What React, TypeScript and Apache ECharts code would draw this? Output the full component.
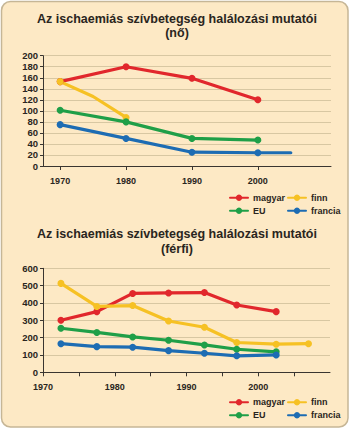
import React, { useEffect, useRef } from "react";
import * as echarts from "echarts";

// ---- data: women (nő) ----
const femaleMagyarYears = [1970, 1980, 1990, 2000];
const femaleMagyar = [153, 180, 159, 120];
const femaleFinnYears = [1970, 1975, 1980];
const femaleFinn = [153, 126, 88];
const femaleEUYears = [1970, 1980, 1990, 2000];
const femaleEU = [101, 80, 50, 47];
const femaleFranciaYears = [1970, 1980, 1990, 2000, 2005];
const femaleFrancia = [75, 50, 25, 24, 24];

// ---- data: men (férfi) ----
const maleYears = [1972.5, 1977.5, 1982.5, 1987.5, 1992.5, 1997, 2002.5];
const maleFinnYears = [1972.5, 1977.5, 1982.5, 1987.5, 1992.5, 1997, 2002.5, 2007];
const maleMagyar = [300, 350, 455, 458, 460, 388, 350];
const maleFinn = [513, 380, 385, 296, 260, 172, 162, 165];
const maleEU = [254, 230, 204, 185, 158, 133, 118];
const maleFrancia = [165, 148, 145, 125, 110, 95, 100];

const decadeTicks = [1970, 1980, 1990, 2000];
const femaleYTicks = { min: 0, max: 200, interval: 20 };
const maleYTicks = { min: 0, max: 600, interval: 100 };

const titleText = "Az ischaemiás szívbetegség halálozási mutatói";
const titleFemale = "(nő)";
const titleMale = "(férfi)";
const legendCol1 = ["magyar", "EU"];
const legendCol2 = ["finn", "francia"];

// points drawn without a marker (line bends / ends)
const noMarker: Record<string, number[]> = { "0-finn": [1975], "0-francia": [2005] };

const COLORS: Record<string, string> = {
  magyar: "#e1272c",
  finn: "#f6c124",
  EU: "#1f9f48",
  francia: "#1d6cb3",
};

const FONT = "'Liberation Sans', Arial, sans-serif";
const DARK = "#2a2520";

function mkSeries(name: string, years: number[], vals: number[], gi: number) {
  const hidden = noMarker[`${gi}-${name}`] || [];
  return {
    type: "line",
    name,
    xAxisIndex: gi,
    yAxisIndex: gi,
    symbol: "circle",
    symbolSize: 7,
    color: COLORS[name],
    lineStyle: { width: 3.2, color: COLORS[name], cap: "round", join: "round" },
    itemStyle: { color: COLORS[name] },
    data: years.map((y, i) =>
      hidden.includes(y) ? { value: [y, vals[i]], symbol: "none" } : { value: [y, vals[i]] }
    ),
    z: 3,
  };
}

function yAxisCfg(gi: number, t: { min: number; max: number; interval: number }) {
  return {
    type: "value",
    gridIndex: gi,
    min: t.min,
    max: t.max,
    interval: t.interval,
    axisLine: { show: true, lineStyle: { color: "#3a3530", width: 1 } },
    axisTick: { show: true, length: 3, lineStyle: { color: "#3a3530" } },
    axisLabel: {
      margin: 5,
      fontSize: 9.5,
      fontWeight: "bold",
      fontFamily: FONT,
      color: DARK,
    },
    splitLine: { show: true, lineStyle: { color: "#d8c7a2", width: 1 } },
  };
}

function legendCfg(data: string[], left: number, top: number) {
  return {
    data,
    orient: "vertical",
    left,
    top,
    padding: 0,
    itemGap: 4,
    itemWidth: 18,
    itemHeight: 8,
    selectedMode: false,
    textStyle: { fontSize: 9, fontWeight: "bold", fontFamily: FONT, color: DARK },
  };
}

export default function App() {
  const ref = useRef<HTMLDivElement>(null);
  useEffect(() => {
    if (!ref.current) return;
    const chart = echarts.init(ref.current, null, { renderer: "svg" });
    const titleStyle = {
      fontSize: 12.5,
      fontWeight: "bold",
      fontFamily: FONT,
      fill: DARK,
      textAlign: "center",
      textVerticalAlign: "middle",
    };
    const xLabel = {
      margin: 10,
      fontSize: 9,
      fontWeight: "bold",
      fontFamily: FONT,
      color: DARK,
    };
    chart.setOption({
      animation: false,
      graphic: [
        {
          type: "rect",
          z: -10,
          shape: { x: 1.5, y: 1.5, width: 346.5, height: 425.5, r: 9 },
          style: { fill: "#fde9c5", stroke: "#c6b696", lineWidth: 1.5 },
        },
        { type: "text", x: 177, y: 19, style: { ...titleStyle, text: titleText } },
        { type: "text", x: 177, y: 33, style: { ...titleStyle, text: titleFemale } },
        { type: "text", x: 177, y: 234, style: { ...titleStyle, text: titleText } },
        { type: "text", x: 177, y: 249, style: { ...titleStyle, text: titleMale } },
      ],
      grid: [
        { left: 43, right: 19, top: 55.7, height: 110.3 },
        { left: 43, right: 20, top: 268.3, height: 104 },
      ],
      xAxis: [
        {
          type: "value",
          gridIndex: 0,
          min: 1967.4,
          max: 2011.1,
          axisLine: { show: true, onZero: false, lineStyle: { color: "#3a3530", width: 1 } },
          axisTick: { show: true, length: 4, customValues: decadeTicks, lineStyle: { color: "#3a3530" } },
          axisLabel: {
            ...xLabel,
            customValues: decadeTicks,
            formatter: (v: number) => String(v),
          },
          splitLine: { show: false },
        },
        {
          type: "value",
          gridIndex: 1,
          min: 1970,
          max: 2010,
          interval: 5,
          axisLine: { show: true, onZero: false, lineStyle: { color: "#3a3530", width: 1 } },
          axisTick: { show: true, length: 4, lineStyle: { color: "#3a3530" } },
          axisLabel: {
            ...xLabel,
            showMaxLabel: false,
            formatter: (v: number) => (decadeTicks.includes(v) ? String(v) : ""),
          },
          splitLine: { show: false },
        },
      ],
      yAxis: [yAxisCfg(0, femaleYTicks), yAxisCfg(1, maleYTicks)],
      legend: [
        legendCfg(legendCol1, 229, 193.3),
        legendCfg(legendCol2, 287, 193.3),
        legendCfg(legendCol1, 229, 397.7),
        legendCfg(legendCol2, 287, 397.7),
      ],
      series: [
        mkSeries("magyar", femaleMagyarYears, femaleMagyar, 0),
        mkSeries("finn", femaleFinnYears, femaleFinn, 0),
        mkSeries("EU", femaleEUYears, femaleEU, 0),
        mkSeries("francia", femaleFranciaYears, femaleFrancia, 0),
        mkSeries("magyar", maleYears, maleMagyar, 1),
        mkSeries("finn", maleFinnYears, maleFinn, 1),
        mkSeries("EU", maleYears, maleEU, 1),
        mkSeries("francia", maleYears, maleFrancia, 1),
      ],
    });
    return () => chart.dispose();
  }, []);
  return (
    <div
      ref={ref}
      style={{ position: "fixed", left: 0, top: 0, width: 350, height: 429, background: "#ffffff" }}
    />
  );
}
